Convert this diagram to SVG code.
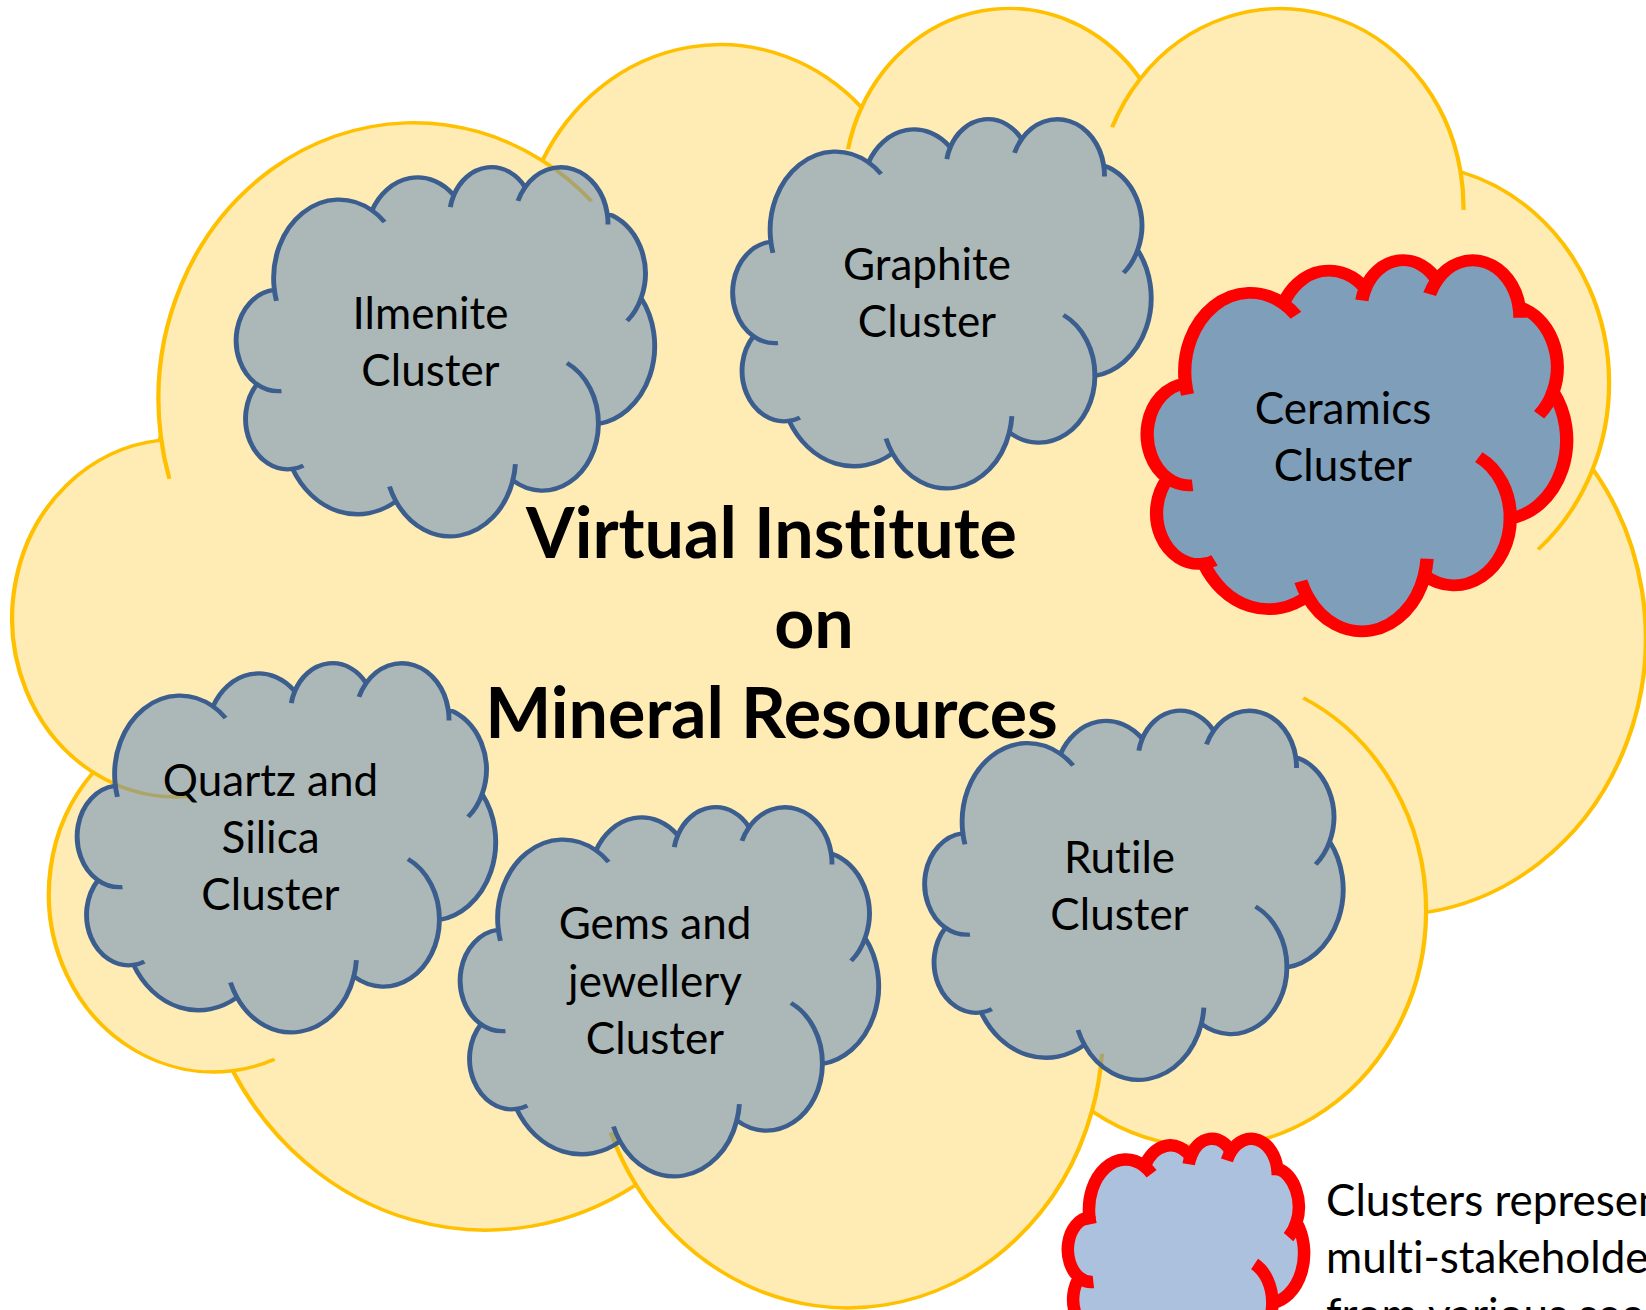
<svg xmlns="http://www.w3.org/2000/svg" xmlns:xlink="http://www.w3.org/1999/xlink" width="1646" height="1310" viewBox="0 0 1646 1310">
<style>
text{font-variant-ligatures:none;font-feature-settings:"liga" 0,"clig" 0}
.lbl{font-family:Lato,"Liberation Sans",sans-serif;font-size:44px;fill:#000;text-anchor:middle}
.leg{font-family:Lato,"Liberation Sans",sans-serif;font-size:44px;fill:#000}
.ttl{font-family:Lato,"Liberation Sans",sans-serif;font-size:70px;font-weight:700;fill:#000;text-anchor:middle}
.gray{fill:#678EBB;fill-opacity:0.55;stroke:#3B5E8E;stroke-width:506}
.cer{fill:#7F9EBA;stroke:#FF0000;stroke-width:1370}
.legc{fill:#ABC1DD;stroke:#FF0000;stroke-width:2290}
.big{fill:#FFEBB4;stroke:#FFC000;stroke-width:113}
</style>
<defs>
<g id="cloud" stroke-linejoin="round">
<path d="M3900,14370 A6753,9190 0 0 1 14005,5202 A5333,7267 0 0 1 22456,3432 A4365,5945 0 0 1 29833,2481 A4857,6595 0 0 1 38318,5576 A5333,7273 0 0 1 41818,15460 A6775,9220 0 0 1 37404,30203 A5785,7867 0 0 1 28556,36813 A6752,9215 0 0 1 16480,39264 A7720,10543 0 0 1 5804,35470 A4360,5918 0 0 1 2113,25548 A4345,5945 0 0 1 3863,14505 Z"/>
<path fill="none" d="M4646,26345 A4345,5945 0 0 1 2113,25548 M6913,35089 A4360,5918 0 0 1 5804,35470 M16480,39264 A6752,9215 0 0 1 15813,37524 M28822,34904 A6752,9215 0 0 1 28556,36813 M34153,23067 A5785,7867 0 0 1 37404,30203 M41818,15460 A5333,7273 0 0 1 40370,18135 M38318,5576 A4857,6595 0 0 1 38394,6840 M29091,4092 A4857,6595 0 0 1 29833,2481 M22097,4822 A4365,5945 0 0 1 22456,3432 M14005,5202 A6753,9190 0 0 1 15305,6551 M4127,15789 A6753,9190 0 0 1 3900,14370"/>
</g>
</defs>

<g id="virtual-institute">
<use href="#cloud" class="big" transform="translate(13.5,4.2) scale(0.037766,0.030069)"/>
</g>

<g id="ilmenite">
<use href="#cloud" class="gray" transform="translate(236.5,166) scale(0.0096759,0.0085417)"/>
<text class="lbl" x="430.5" y="328.7">Ilmenite</text>
<text class="lbl" x="430.5" y="385.5">Cluster</text>
</g>

<g id="graphite">
<use href="#cloud" class="gray" transform="translate(733,118) scale(0.0096759,0.0085417)"/>
<text class="lbl" x="927" y="280">Graphite</text>
<text class="lbl" x="927" y="337">Cluster</text>
</g>

<g id="ceramics">
<use href="#cloud" class="cer" transform="translate(1147.5,259) scale(0.0096991,0.0085880)"/>
<text class="lbl" x="1343" y="424">Ceramics</text>
<text class="lbl" x="1343" y="481">Cluster</text>
</g>

<g id="quartz">
<use href="#cloud" class="gray" transform="translate(77.5,662) scale(0.0096759,0.0085417)"/>
<text class="lbl" x="270.5" y="796">Quartz and</text>
<text class="lbl" x="270.5" y="853">Silica</text>
<text class="lbl" x="270.5" y="910">Cluster</text>
</g>

<g id="gems">
<use href="#cloud" class="gray" transform="translate(460.5,806) scale(0.0096759,0.0085417)"/>
<text class="lbl" x="655" y="939">Gems and</text>
<text class="lbl" x="655" y="996.5">jewellery</text>
<text class="lbl" x="655" y="1054">Cluster</text>
</g>

<g id="rutile">
<use href="#cloud" class="gray" transform="translate(925,709.5) scale(0.0096759,0.0085417)"/>
<text class="lbl" x="1119.5" y="872.5">Rutile</text>
<text class="lbl" x="1119.5" y="930">Cluster</text>
</g>

<g id="title">
<text class="ttl" x="771.5" y="558.3">Virtual Institute</text>
<text class="ttl" x="814" y="648.3">on</text>
<text class="ttl" x="771.5" y="738.3">Mineral Resources</text>
</g>

<g id="legend">
<use href="#cloud" class="legc" transform="translate(1068,1138) scale(0.005463,0.005463)"/>
<text class="leg" x="1326" y="1216">Clusters represen</text>
<text class="leg" x="1326" y="1273">multi-stakeholde</text>
<text class="leg" x="1326" y="1330">from various sec</text>
</g>

<g id="connectors"/>
</svg>
